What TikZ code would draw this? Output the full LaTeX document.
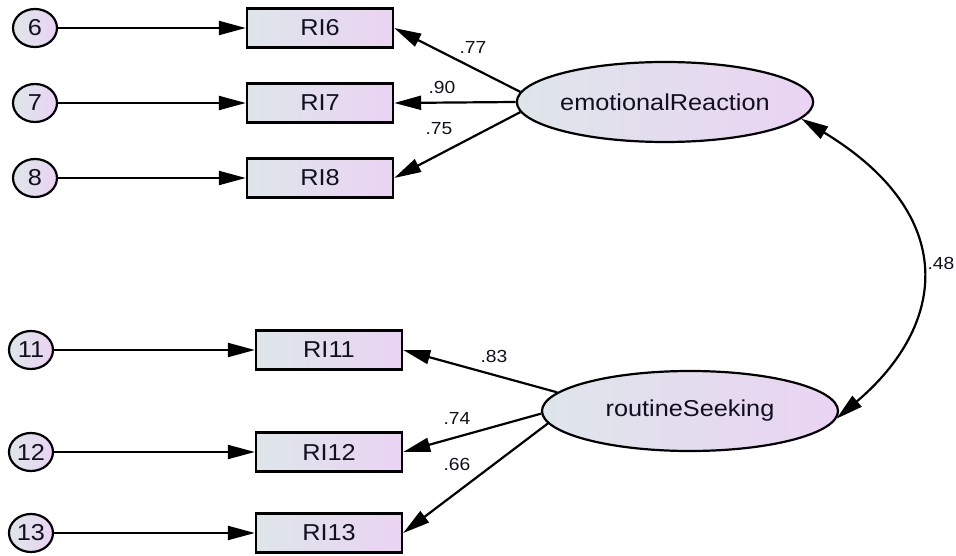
\documentclass[tikz,border=0pt]{standalone}
\usepackage{fontspec}
\setmainfont{Liberation Sans}[FakeStretch=1.1]
\usetikzlibrary{arrows.meta,shapes.geometric}
\definecolor{shadeL}{HTML}{DEE6EA}
\definecolor{shadeR}{HTML}{EAD3F3}
\definecolor{ink}{HTML}{10101E}
\begin{document}
\begin{tikzpicture}[x=1pt,y=-1pt,
  shaded/.style={left color=shadeL,right color=shadeR,text=ink},
  obs/.style={shaded,draw,rectangle,line width=2.4pt,minimum width=146pt,
    minimum height=39pt,inner sep=0pt,font=\fontsize{23}{23}\selectfont},
  errvar/.style={shaded,draw,ellipse,line width=2.2pt,minimum width=44pt,
    minimum height=38pt,inner sep=0pt,font=\fontsize{23}{23}\selectfont},
  latent/.style={shaded,draw,ellipse,line width=2.2pt,minimum width=296pt,
    minimum height=80pt,inner sep=0pt,font=\fontsize{23}{23}\selectfont},
  tip/.tip={Triangle[length=27pt,width=14pt]},
  pathline/.style={line width=2.2pt,-tip},
  coef/.style={font=\fontsize{17.5}{17.5}\selectfont,inner sep=0pt,text=ink}
]
\useasboundingbox (0,0) rectangle (956,556);

% error terms
\node[errvar] (e6)  at (35,28)  {6};
\node[errvar] (e7)  at (35,103) {7};
\node[errvar] (e8)  at (35,178) {8};
\node[errvar] (e11) at (31,350) {11};
\node[errvar] (e12) at (31,452) {12};
\node[errvar] (e13) at (31,533) {13};

% observed items
\node[obs] (ri6)  at (320,28)  {RI6};
\node[obs] (ri7)  at (320,103) {RI7};
\node[obs] (ri8)  at (320,178) {RI8};
\node[obs] (ri11) at (329,350) {RI11};
\node[obs] (ri12) at (329,452) {RI12};
\node[obs] (ri13) at (329,533) {RI13};

% latent factors
\node[latent] (er) at (665,102) {emotionalReaction};
\node[latent] (rs) at (690,411) {routineSeeking};

% error paths
\foreach \e/\r in {e6/ri6,e7/ri7,e8/ri8,e11/ri11,e12/ri12,e13/ri13}
  \draw[pathline] (\e) -- (\r);

% loadings
\draw[pathline] (er.176.5) -- (ri6.east);
\draw[pathline] (er.180)   -- (ri7.east);
\draw[pathline] (er.184)   -- (ri8.east);
\draw[pathline] (rs.172.5) -- (ri11.east);
\draw[pathline] (rs.181.5) -- (ri12.east);
\draw[pathline] (rs.185)   -- (ri13.east);

\node[coef] at (473,47)  {.77};
\node[coef] at (442,87)  {.90};
\node[coef] at (439,129) {.75};
\node[coef] at (494,356) {.83};
\node[coef] at (457,418) {.74};
\node[coef] at (457,464) {.66};

% factor correlation
\draw[line width=2.2pt,tip-tip] (er.-7.7) .. controls (960,215) and (947,325) .. (rs.-3.6);
\node[coef] at (941,263) {.48};
\end{tikzpicture}
\end{document}
